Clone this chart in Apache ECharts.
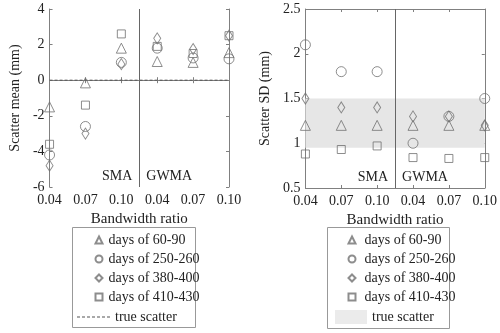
<!DOCTYPE html>
<html>
<head>
<meta charset="utf-8">
<script src="https://cdn.jsdelivr.net/npm/echarts@6/dist/echarts.min.js"></script>
<style>
  html, body { margin: 0; padding: 0; background: #fff; }
  #wrap { width: 500px; height: 333px; position: relative; }
  .chart { width: 250px; height: 333px; position: absolute; top: 0; }
</style>
</head>
<body>
<div id="wrap">
  <div class="chart" id="meanChart" style="left:0"></div>
  <div class="chart" id="sdChart" style="left:250px"></div>
</div>
<script>
// x positions 1..6 : SMA 0.04/0.07/0.10 then GWMA 0.04/0.07/0.10
var positions = [1, 2, 3, 4, 5, 6];
var ratioLabels = ['0.04', '0.07', '0.10', '0.04', '0.07', '0.10'];
var seriesNames = ['days of 60-90', 'days of 250-260', 'days of 380-400', 'days of 410-430'];
var symbols = ['triangle', 'circle', 'diamond', 'rect'];
var symbolSizes = [10, 10, [7, 11], 8];

// scatter mean (mm)
var mean6090 = [-1.5, -0.15, 1.8, 1.05, 1.0, 1.55];
var mean250260 = [-4.2, -2.6, 1.0, 1.8, 1.25, 1.2];
var mean380400 = [-4.8, -3.0, 0.9, 2.35, 1.75, 2.5];
var mean410430 = [-3.6, -1.4, 2.6, 1.9, 1.5, 2.5];

// scatter SD (mm)
var sd6090 = [1.2, 1.2, 1.2, 1.2, 1.2, 1.2];
var sd250260 = [2.1, 1.8, 1.8, 1.0, 1.3, 1.5];
var sd380400 = [1.5, 1.4, 1.4, 1.3, 1.3, 1.2];
var sd410430 = [0.88, 0.93, 0.97, 0.84, 0.83, 0.84];

var trueMean = 0;
var trueSdBand = [0.95, 1.5];
var splitAt = 3.5;

var FONT = 'Liberation Serif';
var TXT = '#222';
var AX = '#808080';

function pairs(vals) {
    return positions.map(function (x, i) { return [x, vals[i]]; });
}

// dashed legend icon: small 3x1 dashes across 33px
function dashIcon() {
    var d = '';
    for (var x = 0; x < 33; x += 5) {
        var e = Math.min(x + 3, 33);
        d += 'M' + x + ',0L' + e + ',0L' + e + ',1L' + x + ',1Z';
    }
    return 'path://' + d;
}

function buildOption(cfg) {
    var xBase = {
        type: 'value', min: 1, max: 6, interval: 1,
        splitLine: { show: false },
        axisLine: { lineStyle: { color: AX } },
        axisTick: { inside: true, length: 3, lineStyle: { color: AX } }
    };
    var yBase = {
        type: 'value', min: cfg.yMin, max: cfg.yMax, interval: cfg.yInterval,
        splitLine: { show: false },
        axisLine: { show: true, lineStyle: { color: AX } },
        axisTick: { inside: true, length: 3, lineStyle: { color: AX } }
    };
    var series = cfg.values.map(function (vals, i) {
        return {
            name: seriesNames[i],
            type: 'scatter',
            data: pairs(vals),
            symbol: symbols[i],
            symbolSize: symbolSizes[i],
            itemStyle: { color: 'rgba(255,255,255,0)', borderColor: '#707070', borderWidth: 1 },
            z: 5
        };
    });
    series.push(cfg.trueSeries);
    // vertical separator between SMA and GWMA
    series.push({
        type: 'line', data: [], silent: true,
        markLine: {
            silent: true, symbol: 'none', label: { show: false },
            lineStyle: { color: '#666', type: 'solid', width: 1 },
            data: [{ xAxis: splitAt }]
        }
    });
    return {
        animation: false,
        textStyle: { fontFamily: FONT },
        grid: cfg.grid,
        xAxis: [
            Object.assign({}, xBase, {
                position: 'bottom',
                name: 'Bandwidth ratio', nameLocation: 'middle', nameGap: 23,
                nameTextStyle: { fontFamily: FONT, fontSize: 15, color: TXT },
                axisLabel: {
                    fontFamily: FONT, fontSize: 14, color: TXT, margin: 6,
                    formatter: function (v) { return ratioLabels[v - 1] || ''; }
                }
            }),
            Object.assign({}, xBase, { position: 'top', axisLabel: { show: false } })
        ],
        yAxis: [
            Object.assign({}, yBase, {
                position: 'left',
                name: cfg.yName, nameLocation: 'middle', nameGap: cfg.yNameGap,
                nameTextStyle: { fontFamily: FONT, fontSize: 14, color: TXT },
                axisLabel: { fontFamily: FONT, fontSize: 14, color: TXT, margin: 5 }
            }),
            Object.assign({}, yBase, { position: 'right', axisLabel: { show: false } })
        ],
        legend: [{
            orient: 'vertical', left: cfg.legendLeft, top: 228,
            itemWidth: 7, itemHeight: 7, itemGap: 5,
            textStyle: { fontFamily: FONT, fontSize: 14, color: TXT, padding: [0, 0, 0, cfg.legendTextPad] },
            data: seriesNames
        }, {
            orient: 'vertical', left: cfg.trueLegendLeft, top: cfg.trueLegendTop,
            itemWidth: cfg.trueIconW, itemHeight: cfg.trueIconH,
            textStyle: { fontFamily: FONT, fontSize: 14, color: TXT },
            data: [cfg.trueLegendItem]
        }],
        series: series
    };
}

var meanChart = echarts.init(document.getElementById('meanChart'));
meanChart.setOption(buildOption({
    grid: { left: 36, right: 21, top: 9, bottom: 146 },
    yMin: -6, yMax: 4, yInterval: 2,
    yName: 'Scatter mean (mm)', yNameGap: 18,
    values: [mean6090, mean250260, mean380400, mean410430],
    legendLeft: 89.5, legendTextPad: 1,
    trueLegendLeft: 72, trueLegendTop: 305, trueIconW: 33, trueIconH: 1,
    trueLegendItem: { name: 'true scatter', icon: dashIcon(), itemStyle: { color: '#555' } },
    trueSeries: {
        name: 'true scatter', type: 'line', symbol: 'none',
        data: [[1, trueMean], [6, trueMean]],
        lineStyle: { color: '#555', type: [3, 2], width: 1 },
        itemStyle: { color: '#555' }
    }
}));

var sdChart = echarts.init(document.getElementById('sdChart'));
sdChart.setOption(buildOption({
    grid: { left: 41, right: 15, top: 9, bottom: 145 },
    yMin: 0.5, yMax: 2.5, yInterval: 0.5,
    yName: 'Scatter SD (mm)', yNameGap: 24,
    values: [sd6090, sd250260, sd380400, sd410430],
    legendLeft: 92.5, legendTextPad: 4,
    trueLegendLeft: 80, trueLegendTop: 305, trueIconW: 32, trueIconH: 14,
    trueLegendItem: { name: 'true scatter', icon: 'rect' },
    trueSeries: {
        name: 'true scatter', type: 'scatter', data: [],
        itemStyle: { color: '#e6e6e6' },
        markArea: {
            silent: true,
            itemStyle: { color: '#e6e6e6', opacity: 1 },
            data: [[{ yAxis: trueSdBand[0] }, { yAxis: trueSdBand[1] }]]
        },
        z: 1
    }
}));

// SMA / GWMA labels and legend boxes
function addDecor(chart, yMin, box) {
    var p = chart.convertToPixel({ xAxisIndex: 0, yAxisIndex: 0 }, [splitAt, yMin]);
    chart.setOption({
        graphic: [
            { type: 'text', x: p[0] - 7, y: p[1] - 4, style: { text: 'SMA', font: '14px "Liberation Serif"', fill: TXT, align: 'right', verticalAlign: 'bottom' } },
            { type: 'text', x: p[0] + 7, y: p[1] - 4, style: { text: 'GWMA', font: '14px "Liberation Serif"', fill: TXT, align: 'left', verticalAlign: 'bottom' } },
            { type: 'rect', shape: box, style: { fill: 'none', stroke: '#999', lineWidth: 1 }, silent: true }
        ]
    });
}
addDecor(meanChart, -6, { x: 72.5, y: 227.5, width: 123, height: 100 });
addDecor(sdChart, 0.5, { x: 77.5, y: 227.5, width: 122, height: 101 });
</script>
</body>
</html>
